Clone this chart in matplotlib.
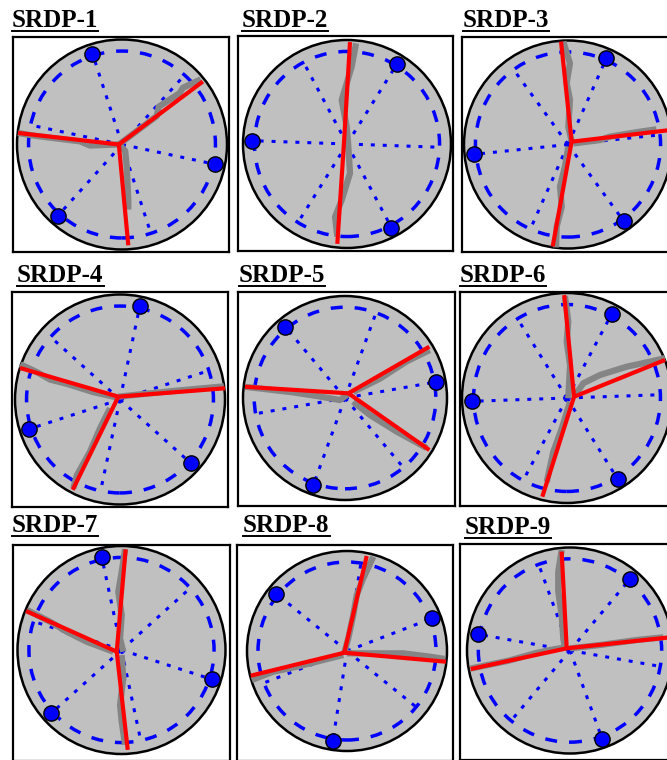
import numpy as np
import matplotlib
matplotlib.use("Agg")
import matplotlib.pyplot as plt
from matplotlib.patches import Circle
from matplotlib.lines import Line2D

W, H = 667, 760

names = ['SRDP-1', 'SRDP-2', 'SRDP-3', 'SRDP-4', 'SRDP-5',
         'SRDP-6', 'SRDP-7', 'SRDP-8', 'SRDP-9']

# angles (deg) of the three loading points (blue dots)
dot_angles = [[108, 228, 348], [58, 178, 298], [66, 186, 306],
              [78, 198, 318], [10, 130, 250], [62, 182, 302],
              [102, 222, 342], [21, 141, 261], [50, 170, 290]]
# dotted radial lines without a point
line_angles = [[48, 168, 288], [-2, 118, 238], [6, 126, 246],
               [18, 138, 258], [70, 190, 310], [2, 122, 242],
               [42, 162, 282], [81, 201, 321], [110, 230, 350]]

# crack junction + red branch tips, disc radius = 1
junctions = [(-0.03, 0.0), (-0.03, 0.0), (0.035, 0.027), (-0.016, 0.027),
             (0.033, 0.046), (0.067, 0.012), (-0.046, -0.016),
             (-0.027, -0.017), (-0.032, 0.021)]
red_tips = [
    [(-0.99, 0.11), (0.77, 0.60), (0.06, -0.96)],
    [(0.029, 0.98), (-0.093, -0.96)],
    [(-0.067, 0.99), (0.99, 0.14), (-0.147, -0.98)],
    [(-0.952, 0.30), (1.0, 0.107), (-0.45, -0.86)],
    [(-0.98, 0.11), (0.827, 0.503), (0.827, -0.51)],
    [(-0.026, 0.98), (0.933, 0.362), (-0.235, -0.94)],
    [(0.04, 0.968), (-0.918, 0.375), (0.06, -0.96)],
    [(0.197, 0.95), (0.99, -0.107), (-0.963, -0.247)],
    [(-0.081, 0.96), (0.99, 0.13), (-0.964, -0.18)],
]

# traced (gray) crack paths
gray_paths = [
    [[(-0.99, 0.11), (-0.845, 0.085), (-0.4, 0.03), (-0.305, -0.01), (-0.03, 0.0)],
     [(-0.03, 0.0), (0.33, 0.27), (0.35, 0.36), (0.55, 0.49), (0.58, 0.54), (0.75, 0.62)],
     [(-0.03, 0.0), (0.03, -0.06), (0.045, -0.21), (0.06, -0.53), (0.06, -0.62)]],
    [[(0.087, 0.968), (0.045, 0.743), (-0.051, 0.423), (-0.003, 0.166), (0.013, -0.026),
      (0.029, -0.28), (-0.051, -0.54), (-0.115, -0.70), (-0.093, -0.89)]],
    [[(-0.045, 0.99), (0.019, 0.78), (-0.013, 0.59), (0.019, 0.43), (0.003, 0.17), (0.035, 0.03)],
     [(0.051, 0.01), (0.31, 0.043), (0.4, 0.075), (0.69, 0.123), (0.85, 0.146)],
     [(0.003, -0.02), (-0.029, -0.21), (-0.077, -0.405), (-0.06, -0.6), (-0.109, -0.79), (-0.115, -0.99)]],
    [[(-0.95, 0.335), (-0.79, 0.26), (-0.667, 0.19), (-0.51, 0.15), (-0.254, 0.07), (-0.03, 0.02)],
     [(-0.016, 0.027), (0.2, 0.05), (0.6, 0.09), (0.99, 0.125)],
     [(-0.095, -0.084), (-0.19, -0.274), (-0.286, -0.497), (-0.41, -0.72), (-0.445, -0.846)]],
    [[(-0.98, 0.11), (-0.507, 0.055), (-0.278, 0.02), (-0.05, -0.02), (0.033, 0.04)],
     [(0.08, 0.06), (0.343, 0.19), (0.6, 0.356), (0.83, 0.47)],
     [(0.08, -0.036), (0.245, -0.167), (0.507, -0.33), (0.8, -0.49)]],
    [[(-0.019, 0.97), (0.012, 0.727), (-0.003, 0.536), (0.029, 0.314), (0.012, -0.003)],
     [(0.08, 0.03), (0.155, 0.14), (0.314, 0.219), (0.568, 0.298), (0.79, 0.346), (0.933, 0.38)],
     [(0.029, -0.035), (-0.05, -0.29), (-0.13, -0.51), (-0.193, -0.8)]],
    [[(0.034, 0.97), (0.002, 0.753), (-0.031, 0.56), (0.002, 0.337), (-0.014, 0.112), (0.017, -0.016)],
     [(-0.91, 0.385), (-0.687, 0.272), (-0.527, 0.176), (-0.335, 0.08), (-0.079, -0.016)],
     [(0.002, -0.048), (0.017, -0.272), (-0.014, -0.53), (0.002, -0.69), (0.034, -0.91)]],
    [[(0.263, 0.943), (0.163, 0.727), (0.097, 0.56), (0.063, 0.36), (0.013, 0.127), (-0.027, -0.017)],
     [(-0.003, -0.023), (0.33, -0.023), (0.563, -0.023), (0.83, -0.057), (0.98, -0.08)],
     [(-0.953, -0.29), (-0.737, -0.207), (-0.503, -0.157), (-0.17, -0.073), (-0.037, -0.04)]],
    [[(-0.081, 0.976), (-0.114, 0.765), (-0.114, 0.571), (-0.081, 0.345), (-0.065, 0.118), (-0.048, 0.02)],
     [(-0.964, -0.175), (-0.6, -0.1), (-0.34, -0.027), (-0.194, 0.005), (-0.065, 0.027)],
     [(0.0, 0.021), (0.29, 0.053), (0.647, 0.102), (0.906, 0.128)]],
]

# layout in pixels (frame box, disc centre, disc radius, title anchor)
frames = [(13, 37, 216, 215), (238, 36, 215, 215), (462, 37, 216, 215),
          (12, 292, 216, 215), (238, 292, 217, 214), (460, 292, 216, 214),
          (13, 545, 217, 216), (237, 545, 216, 216), (460, 544, 216, 216)]
centers = [(122, 144.5), (347, 144), (568, 144.5), (120, 399.5), (345, 398),
           (567, 398), (121.5, 650), (347, 651), (570, 650.5)]
radii = [105, 104, 104, 105, 102, 105, 104, 100, 103]
title_xy = [(12, 27), (242, 27), (463, 27), (17, 282), (239, 282), (460, 282),
            (12, 532), (243, 532), (465, 534)]

fig = plt.figure(figsize=(W / 100, H / 100), dpi=100)

for i in range(9):
    x0, y0, w, h = frames[i]
    cx, cy = centers[i]
    r = radii[i]
    ax = fig.add_axes([x0 / W, 1 - (y0 + h) / H, w / W, h / H])
    ax.set_xlim((x0 - cx) / r, (x0 + w - cx) / r)
    ax.set_ylim((cy - (y0 + h)) / r, (cy - y0) / r)
    ax.set_xticks([])
    ax.set_yticks([])
    for s in ax.spines.values():
        s.set_linewidth(1.6)
        s.set_color('black')

    ax.add_patch(Circle((0, 0), 1.0, facecolor='#c0c0c0', edgecolor='black', lw=1.8, zorder=1))
    ax.add_patch(Circle((0, 0), 0.89, facecolor='none', edgecolor='#0000ff', lw=2.5,
                        linestyle=(0, (3.45, 3.45)), zorder=2))

    # dotted radial lines
    for a in line_angles[i]:
        t = np.radians(a)
        ax.plot([0, 0.88 * np.cos(t)], [0, 0.88 * np.sin(t)], color='#0000ff',
                lw=2.2, linestyle=(0, (1.3, 2.6)), zorder=3)
    for a in dot_angles[i]:
        t = np.radians(a)
        ax.plot([0, 0.91 * np.cos(t)], [0, 0.91 * np.sin(t)], color='#0000ff',
                lw=2.2, linestyle=(0, (1.3, 2.6)), zorder=3)

    # cracks
    for path in gray_paths[i]:
        p = np.array(path)
        ax.plot(p[:, 0], p[:, 1], color='#858585', lw=4.5, solid_joinstyle='round',
                solid_capstyle='butt', zorder=4)
    jx, jy = junctions[i]
    for tx, ty in red_tips[i]:
        ax.plot([jx, tx], [jy, ty], color='#ff0000', lw=3, solid_capstyle='butt', zorder=5)

    # loading points
    for a in dot_angles[i]:
        t = np.radians(a)
        ax.plot(0.91 * np.cos(t), 0.91 * np.sin(t), 'o', ms=11, color='#0000ff',
                mec='black', mew=1.0, zorder=6)

# titles with underline
texts = []
for i in range(9):
    tx, ty = title_xy[i]
    t = fig.text(tx / W, 1 - ty / H, names[i], fontsize=18, fontweight='bold',
                 family='Liberation Serif', ha='left', va='baseline')
    texts.append(t)

fig.canvas.draw()
rend = fig.canvas.get_renderer()
for i, t in enumerate(texts):
    bb = t.get_window_extent(renderer=rend)
    ty = title_xy[i][1] + 4
    fig.add_artist(Line2D([bb.x0 / W, bb.x1 / W], [1 - ty / H, 1 - ty / H],
                          color='black', lw=1.4, transform=fig.transFigure))

fig.savefig('out.png', dpi=100)
